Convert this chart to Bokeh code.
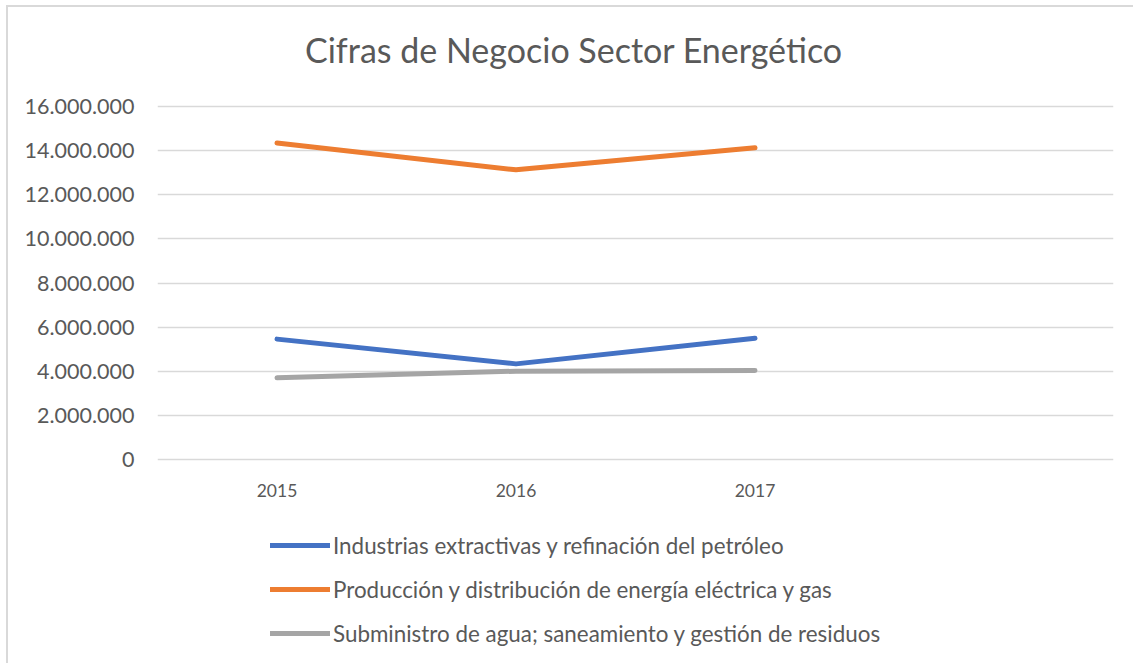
from bokeh.plotting import figure
from bokeh.layouts import column
from bokeh.models import (FactorRange, Range1d, FixedTicker, CustomJSTickFormatter,
                          Legend, LegendItem, Div)
from bokeh.embed import file_html
from bokeh.resources import INLINE

# ---- data ----
categories = ["2015", "2016", "2017", " "]
years = ["2015", "2016", "2017"]
industrias = [5460000, 4340000, 5500000]
produccion = [14330000, 13120000, 14120000]
suministro = [3710000, 4010000, 4040000]
series_names = [
    "Industrias extractivas y refinación del petróleo",
    "Producción y distribución de energía eléctrica y gas",
    "Subministro de agua; saneamiento y gestión de residuos",
]
y_ticks = [0, 2000000, 4000000, 6000000, 8000000, 10000000, 12000000, 14000000, 16000000]
title_text = "Cifras de Negocio Sector Energético"

FONT = "Lato"
TXT = "#595959"
colors = ["#4472C4", "#ED7D31", "#A5A5A5"]

# ---- title ----
title_div = Div(
    text=('<div style="font-family: Lato; font-size: 34px; line-height: 40px; '
          'color: #595959; padding-left: 297px; padding-top: 23px; white-space: nowrap;">'
          + title_text + '</div>'),
    width=1125, height=83, margin=0)

# ---- main chart ----
p = figure(width=1125, height=417, output_backend="svg", toolbar_location=None,
           x_range=FactorRange(*categories, range_padding=0),
           y_range=Range1d(-77000, 16077000),
           min_border_left=149, min_border_right=20, min_border_top=14,
           min_border_bottom=46)
p.outline_line_color = None
p.background_fill_color = "white"
p.border_fill_color = "white"

p.xgrid.grid_line_color = None
p.ygrid.grid_line_color = "#D9D9D9"
p.ygrid.grid_line_width = 1.5
p.yaxis.ticker = FixedTicker(ticks=y_ticks)
p.yaxis.formatter = CustomJSTickFormatter(
    code="return Math.round(tick).toString().replace(/\\B(?=(\\d{3})+(?!\\d))/g, '.');")

for ax in (p.xaxis[0], p.yaxis[0]):
    ax.axis_line_color = None
    ax.major_tick_line_color = None
    ax.minor_tick_line_color = None
    ax.major_tick_out = 0
    ax.major_tick_in = 0
    ax.major_label_text_font = FONT
    ax.major_label_text_color = TXT
p.xaxis.major_label_text_font_size = "17.5px"
p.yaxis.major_label_text_font_size = "21.5px"
p.yaxis.major_label_standoff = 23
p.xaxis.major_label_standoff = 18

renderers = []
for vals, col in zip([industrias, produccion, suministro], colors):
    r = p.line(years, vals, line_color=col, line_width=5, line_cap="round", line_join="round")
    renderers.append(r)

# ---- legend strip ----
lg = figure(width=1125, height=156, output_backend="svg", toolbar_location=None,
            x_range=Range1d(0, 1), y_range=Range1d(0, 1),
            x_axis_location=None, y_axis_location=None,
            min_border_left=0, min_border_right=0, min_border_top=0, min_border_bottom=0)
lg.outline_line_color = None
lg.grid.grid_line_color = None
lg.border_fill_color = "white"
leg_renderers = []
for col in colors:
    # legend-only proxies, kept outside the visible range
    leg_renderers.append(lg.line([-2, -1], [-2, -1], line_color=col, line_width=5,
                                 line_cap="round"))

legend = Legend(items=[LegendItem(label=n, renderers=[r]) for n, r in zip(series_names, leg_renderers)],
                location=(113, 16), orientation="vertical",
                glyph_width=60, glyph_height=28, label_height=28, spacing=16,
                label_standoff=3, padding=0, margin=0,
                label_text_font=FONT, label_text_font_size="22.4px",
                label_text_color=TXT, border_line_color=None,
                background_fill_alpha=0)
lg.add_layout(legend, "center")

layout = column(title_div, p, lg, spacing=0)
layout.styles = {"border-top": "2px solid #D9D9D9", "border-left": "2px solid #D9D9D9",
                 "margin-left": "6px", "margin-top": "5px"}

open("out.html", "w").write(file_html(layout, INLINE))
